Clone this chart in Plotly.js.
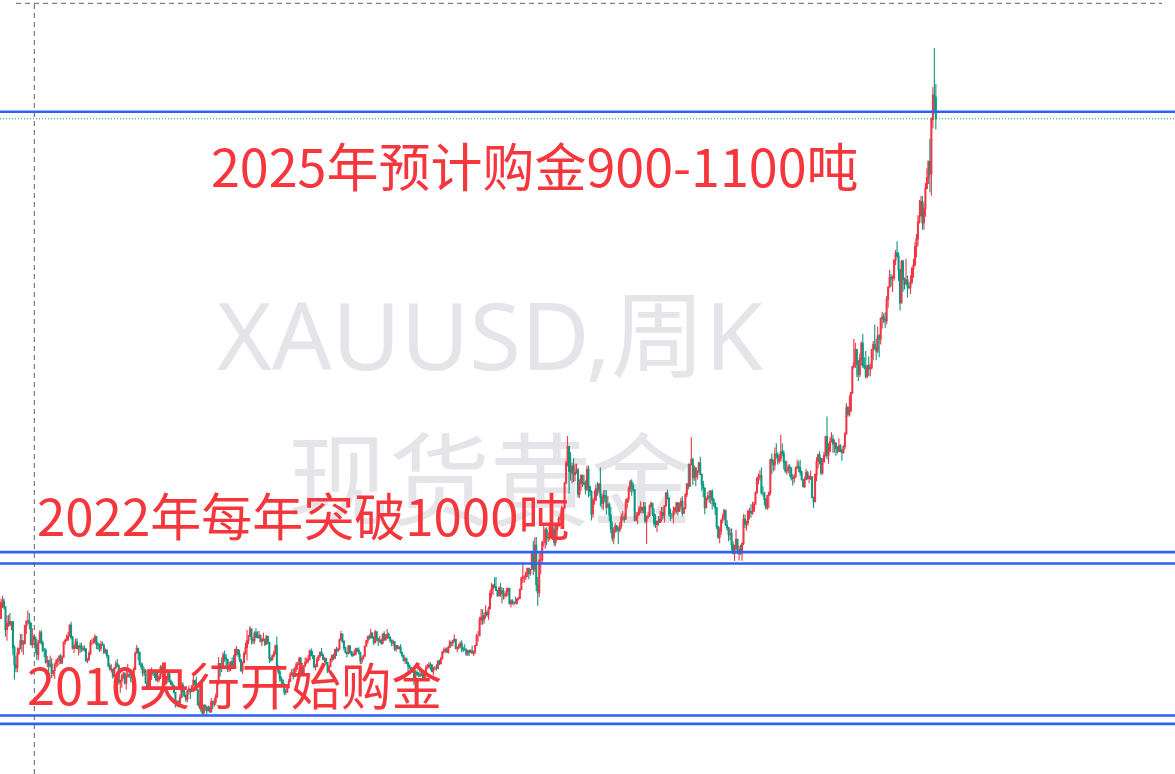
<!DOCTYPE html>
<html>
<head>
<meta charset="utf-8">
<script src="https://cdn.plot.ly/plotly-3.0.1.min.js"></script>
<style>
html,body{margin:0;padding:0;background:#ffffff;overflow:hidden}
#chart{width:1175px;height:774px}
</style>
</head>
<body>
<div id="chart"></div>
<script>
// ---- chart data (weekly XAUUSD candles) ----
const firstWeek = '2013-04-22';
const watermarkTitle = 'XAUUSD,周K';
const watermarkSubtitle = '现货黄金';
const notes = ['2025年预计购金900-1100吨', '2022年每年突破1000吨', '2010央行开始购金'];
const levelLines = [3266, 1648, 1606, 1048, 1017];

const open = [
// 2013
1405,1462,1468,1447,1364,1386,1392,1383,1392,1297,1234,1223,1277,1294,1322,1310,1312,1377,1395,1396,1387,1308,1325,1336,1310,1272,1315,1352,1315,1287,1287,1244,1250,1230,1236,1203,1213,
// 2014
1238,1247,1254,1264,1240,1262,1318,1323,1326,1339,1379,1335,1294,1303,1318,1293,1303,1300,1291,1293,1292,1250,1252,1275,1316,1316,1320,1337,1310,1307,1294,1309,1306,1280,1287,1268,1230,1216,1218,1192,1222,1238,1231,1170,1177,1191,1200,1167,1191,1196,1195,1195,
// 2015
1189,1217,1277,1294,1279,1234,1228,1205,1213,1167,1153,1184,1199,1210,1204,1204,1178,1179,1189,1225,1206,1190,1168,1181,1201,1173,1164,1157,1132,1098,1094,1094,1113,1160,1134,1121,1108,1137,1145,1137,1156,1177,1163,1142,1088,1081,1076,1057,1086,1077,1065,1076,
// 2016
1061,1098,1089,1097,1117,1174,1239,1227,1221,1270,1259,1254,1218,1223,1244,1235,1231,1290,1290,1273,1253,1213,1243,1275,1298,1322,1340,1366,1327,1323,1351,1336,1335,1341,1321,1327,1328,1310,1338,1316,1257,1252,1267,1276,1304,1225,1208,1183,1177,1160,1134,1133,
// 2017
1151,1173,1197,1204,1191,1220,1234,1235,1257,1226,1202,1229,1243,1249,1254,1285,1268,1268,1227,1228,1254,1267,1280,1271,1254,1256,1242,1212,1228,1254,1269,1258,1290,1286,1291,1325,1346,1320,1297,1280,1275,1304,1280,1272,1269,1275,1293,1287,1280,1248,1256,1266,
// 2018
1302,1322,1338,1333,1350,1333,1315,1355,1330,1323,1324,1313,1347,1325,1332,1346,1336,1323,1314,1319,1292,1304,1294,1298,1279,1269,1251,1255,1241,1231,1222,1214,1212,1184,1206,1199,1196,1194,1200,1187,1203,1222,1227,1233,1232,1209,1222,1222,1221,1248,1238,1256,1281,
// 2019
1288,1289,1281,1298,1317,1314,1322,1328,1294,1298,1302,1312,1292,1291,1290,1275,1286,1280,1285,1277,1284,1305,1341,1341,1399,1409,1400,1415,1426,1419,1440,1496,1513,1526,1520,1507,1488,1516,1497,1505,1489,1490,1504,1514,1459,1468,1462,1464,1460,1476,1478,1511,
// 2020
1552,1557,1557,1571,1589,1570,1584,1643,1586,1673,1529,1499,1618,1620,1683,1683,1729,1700,1702,1743,1735,1729,1684,1730,1743,1771,1774,1798,1810,1902,1975,2035,1944,1940,1964,1933,1940,1950,1861,1900,1930,1899,1902,1879,1951,1889,1871,1788,1839,1839,1881,1876,
// 2021
1898,1850,1828,1856,1848,1814,1824,1784,1734,1700,1727,1745,1732,1729,1744,1777,1777,1769,1832,1844,1881,1905,1892,1877,1764,1781,1787,1808,1812,1802,1814,1763,1779,1781,1818,1827,1787,1754,1750,1761,1757,1768,1793,1783,1818,1865,1846,1788,1783,1783,1798,1811,
// 2022
1829,1797,1817,1835,1791,1808,1859,1898,1889,1970,1988,1921,1958,1925,1945,1975,1933,1897,1883,1811,1846,1853,1851,1871,1840,1827,1811,1742,1703,1727,1766,1775,1802,1747,1737,1712,1716,1675,1644,1660,1695,1644,1657,1645,1681,1769,1751,1755,1797,1797,1792,1798,
// 2023
1824,1865,1920,1926,1928,1865,1865,1842,1811,1856,1868,1989,1978,1969,2007,2004,1983,1990,2017,2011,1978,1946,1948,1961,1958,1921,1919,1925,1955,1962,1959,1942,1914,1889,1914,1940,1919,1924,1925,1849,1833,1932,1981,2006,1993,1940,1981,2002,2072,2004,2019,2053,
// 2024
2063,2045,2049,2029,2018,2039,2024,2013,2035,2083,2179,2155,2166,2233,2330,2344,2392,2338,2301,2360,2415,2334,2327,2293,2333,2321,2326,2392,2411,2400,2387,2443,2431,2507,2512,2503,2497,2577,2621,2658,2653,2656,2721,2747,2736,2684,2563,2716,2650,2633,2648,2622,2621,
// 2025
2640,2690,2703,2771,2799,2861,2883,2936,2858,2910,2984,3023,3084,3037,3237,3327,3319
];

const high = [
// 2013
1476,1488,1479,1449,1415,1417,1424,1395,1393,1306,1267,1298,1298,1348,1347,1324,1381,1397,1434,1424,1387,1368,1344,1337,1329,1325,1361,1361,1322,1296,1295,1266,1253,1268,1258,1214,1240,
// 2014
1255,1259,1270,1275,1269,1320,1332,1345,1355,1383,1392,1340,1310,1331,1331,1306,1315,1315,1305,1305,1295,1258,1285,1325,1330,1333,1346,1340,1318,1312,1322,1320,1311,1294,1291,1270,1240,1236,1220,1226,1249,1255,1235,1178,1200,1208,1207,1221,1238,1206,1204,1208,
// 2015
1224,1282,1307,1298,1283,1244,1240,1224,1219,1175,1188,1219,1224,1215,1210,1205,1215,1198,1232,1232,1210,1199,1193,1205,1204,1180,1171,1162,1132,1105,1103,1126,1169,1170,1146,1124,1143,1157,1147,1160,1191,1178,1191,1141,1098,1091,1081,1088,1088,1083,1085,1083,
// 2016
1112,1103,1112,1129,1178,1263,1240,1261,1280,1287,1274,1254,1244,1248,1262,1271,1294,1303,1290,1289,1254,1246,1284,1316,1362,1344,1377,1368,1337,1357,1368,1357,1358,1346,1333,1352,1330,1344,1341,1318,1264,1272,1286,1308,1338,1234,1216,1192,1181,1166,1144,1162,
// 2017
1183,1207,1219,1220,1226,1244,1245,1264,1263,1228,1233,1261,1260,1270,1289,1295,1285,1270,1236,1264,1270,1283,1296,1275,1264,1260,1243,1234,1258,1271,1275,1293,1300,1297,1331,1358,1350,1326,1300,1283,1306,1306,1286,1284,1290,1297,1298,1298,1282,1264,1271,1305,
// 2018
1325,1341,1345,1366,1355,1339,1362,1356,1333,1340,1330,1350,1357,1347,1366,1353,1336,1327,1327,1319,1308,1307,1303,1310,1282,1270,1264,1260,1245,1235,1226,1220,1213,1214,1214,1207,1212,1211,1207,1208,1233,1237,1243,1243,1237,1226,1230,1236,1250,1253,1264,1284,1298,
// 2019
1298,1298,1304,1326,1319,1326,1346,1330,1301,1311,1320,1324,1300,1310,1295,1288,1290,1290,1304,1287,1306,1348,1358,1411,1439,1438,1426,1453,1434,1448,1509,1535,1531,1555,1557,1510,1523,1535,1519,1516,1499,1516,1518,1517,1475,1475,1466,1485,1478,1484,1514,1557,
// 2020
1611,1563,1576,1590,1591,1585,1649,1690,1703,1704,1557,1645,1645,1690,1747,1738,1739,1722,1747,1765,1739,1744,1744,1746,1779,1789,1818,1815,1905,1984,2075,2039,2015,1976,1993,1973,1973,1957,1916,1933,1933,1932,1911,1965,1966,1892,1875,1848,1875,1897,1906,1901,
// 2021
1959,1863,1875,1876,1875,1855,1830,1815,1760,1740,1755,1745,1741,1759,1790,1798,1790,1843,1846,1890,1913,1916,1903,1878,1796,1795,1818,1834,1815,1832,1832,1783,1796,1823,1834,1829,1809,1787,1764,1781,1800,1814,1814,1818,1869,1877,1849,1808,1793,1816,1813,1831,
// 2022
1831,1830,1848,1853,1814,1865,1902,1974,1974,2070,1995,1966,1960,1949,1980,1998,1937,1910,1884,1849,1870,1875,1876,1879,1847,1830,1814,1745,1739,1767,1788,1807,1802,1765,1740,1735,1735,1688,1675,1729,1697,1671,1675,1682,1787,1786,1763,1804,1810,1824,1833,1833,
// 2023
1871,1922,1937,1949,1959,1890,1870,1846,1858,1870,1989,2010,1987,2032,2048,2015,2009,2079,2048,2022,1985,1983,1970,1971,1959,1934,1935,1963,1987,1982,1987,1948,1918,1925,1953,1946,1932,1947,1926,1851,1938,1997,2009,2019,1993,1993,2017,2075,2146,2048,2071,2088,
// 2024
2079,2062,2052,2037,2065,2044,2024,2041,2088,2195,2185,2223,2236,2331,2431,2417,2392,2354,2378,2422,2450,2364,2387,2336,2368,2340,2392,2424,2484,2432,2477,2448,2510,2531,2525,2529,2589,2625,2685,2670,2665,2722,2758,2790,2750,2689,2721,2721,2657,2726,2664,2639,2665,
// 2025
2697,2726,2786,2817,2886,2942,2955,2956,2930,3004,3057,3086,3167,3245,3357,3500,3368
];

const low = [
// 2013
1402,1443,1437,1338,1322,1374,1375,1361,1269,1180,1207,1207,1270,1290,1280,1271,1310,1347,1382,1365,1306,1295,1308,1277,1251,1251,1313,1308,1281,1262,1239,1225,1210,1224,1185,1192,1182,
// 2014
1223,1227,1234,1238,1239,1260,1308,1322,1322,1337,1327,1291,1277,1293,1291,1268,1277,1281,1284,1283,1243,1240,1250,1270,1306,1311,1311,1292,1288,1281,1284,1304,1273,1275,1258,1226,1214,1206,1183,1187,1220,1226,1161,1131,1150,1181,1162,1142,1187,1186,1170,1167,
// 2015
1188,1216,1276,1250,1232,1216,1191,1194,1164,1147,1142,1180,1178,1192,1186,1174,1170,1170,1182,1200,1181,1162,1162,1170,1169,1159,1146,1130,1077,1080,1077,1090,1111,1117,1116,1098,1097,1125,1108,1132,1154,1158,1139,1085,1075,1062,1052,1046,1064,1046,1063,1058,
// 2016
1061,1071,1079,1086,1111,1160,1191,1208,1221,1245,1227,1208,1207,1211,1224,1227,1227,1268,1262,1244,1208,1200,1240,1271,1250,1310,1336,1309,1310,1311,1332,1331,1330,1316,1303,1321,1302,1310,1310,1241,1245,1250,1261,1272,1220,1200,1172,1160,1153,1122,1124,1132,
// 2017
1146,1175,1195,1180,1188,1208,1216,1233,1223,1195,1196,1227,1238,1240,1250,1265,1255,1221,1214,1226,1247,1259,1266,1250,1242,1235,1204,1208,1228,1243,1251,1256,1266,1281,1288,1323,1315,1287,1276,1261,1275,1276,1265,1263,1268,1270,1281,1271,1236,1237,1254,1266,
// 2018
1301,1311,1326,1333,1331,1307,1314,1321,1303,1315,1309,1309,1322,1323,1332,1331,1316,1302,1304,1285,1282,1291,1290,1276,1261,1246,1238,1237,1211,1220,1204,1206,1160,1180,1195,1188,1189,1193,1180,1181,1183,1221,1221,1214,1207,1196,1215,1212,1221,1232,1236,1255,1276,
// 2019
1279,1277,1275,1296,1302,1301,1317,1291,1281,1290,1297,1280,1281,1286,1266,1267,1266,1278,1275,1266,1273,1305,1321,1341,1381,1381,1385,1404,1411,1400,1437,1480,1491,1515,1505,1484,1490,1484,1459,1474,1478,1484,1486,1456,1445,1456,1452,1458,1455,1470,1477,1508,
// 2020
1535,1536,1546,1557,1548,1561,1582,1563,1576,1504,1451,1482,1568,1606,1669,1660,1673,1685,1691,1718,1693,1670,1671,1704,1742,1758,1764,1795,1807,1897,1963,1863,1911,1902,1906,1908,1936,1848,1848,1873,1887,1893,1860,1872,1850,1853,1764,1774,1822,1852,1855,1863,
// 2021
1816,1807,1802,1831,1785,1808,1761,1717,1687,1677,1719,1721,1677,1721,1734,1763,1756,1769,1808,1830,1869,1855,1867,1761,1761,1750,1783,1792,1790,1790,1753,1678,1770,1778,1808,1781,1742,1737,1721,1746,1756,1759,1770,1758,1816,1842,1778,1762,1770,1753,1785,1789,
// 2022
1782,1799,1805,1780,1788,1807,1850,1878,1889,1966,1895,1910,1890,1915,1940,1930,1872,1850,1787,1808,1838,1829,1825,1805,1816,1784,1732,1697,1681,1711,1754,1765,1745,1727,1688,1692,1654,1639,1615,1659,1640,1617,1637,1616,1673,1737,1727,1745,1768,1774,1785,1797,
// 2023
1824,1863,1896,1911,1861,1852,1819,1805,1804,1809,1858,1934,1944,1949,1993,1969,1974,1980,2000,1952,1940,1932,1938,1925,1911,1893,1902,1921,1953,1942,1929,1911,1885,1884,1912,1915,1901,1913,1846,1810,1833,1908,1954,1970,1931,1932,1975,1998,1990,1973,2017,2052,
// 2024
2013,2013,2002,2010,2016,2015,1984,2010,2025,2079,2146,2146,2166,2228,2323,2324,2291,2277,2291,2334,2325,2320,2286,2287,2295,2293,2319,2353,2392,2353,2380,2364,2411,2470,2490,2471,2485,2546,2620,2624,2604,2645,2703,2730,2643,2536,2563,2605,2613,2631,2583,2614,2596,
// 2025
2634,2656,2698,2730,2772,2855,2887,2832,2832,2880,2982,3000,2970,2957,3205,3260,3202
];

const close = [
// 2013
1462,1468,1447,1364,1386,1392,1383,1392,1297,1234,1223,1277,1294,1322,1310,1312,1377,1395,1396,1387,1308,1325,1336,1310,1272,1315,1352,1315,1287,1287,1244,1250,1230,1236,1203,1213,1238,
// 2014
1247,1254,1264,1240,1262,1318,1323,1326,1339,1379,1335,1294,1303,1318,1293,1303,1300,1291,1293,1292,1250,1252,1275,1316,1316,1320,1337,1310,1307,1294,1309,1306,1280,1287,1268,1230,1216,1218,1192,1222,1238,1231,1170,1177,1191,1200,1167,1191,1196,1195,1195,1189,
// 2015
1217,1277,1294,1279,1234,1228,1205,1213,1167,1153,1184,1199,1210,1204,1204,1178,1179,1189,1225,1206,1190,1168,1181,1201,1173,1164,1157,1132,1098,1094,1094,1113,1160,1134,1121,1108,1137,1145,1137,1156,1177,1163,1142,1088,1081,1076,1057,1086,1077,1065,1076,1061,
// 2016
1098,1089,1097,1117,1174,1239,1227,1221,1270,1259,1254,1218,1223,1244,1235,1231,1290,1290,1273,1253,1213,1243,1275,1298,1322,1340,1366,1327,1323,1351,1336,1335,1341,1321,1327,1328,1310,1338,1316,1257,1252,1267,1276,1304,1225,1208,1183,1177,1160,1134,1133,1151,
// 2017
1173,1197,1204,1191,1220,1234,1235,1257,1226,1202,1229,1243,1249,1254,1285,1268,1268,1227,1228,1254,1267,1280,1271,1254,1256,1242,1212,1228,1254,1269,1258,1290,1286,1291,1325,1346,1320,1297,1280,1275,1304,1280,1272,1269,1275,1293,1287,1280,1248,1256,1266,1302,
// 2018
1322,1338,1333,1350,1333,1315,1355,1330,1323,1324,1313,1347,1325,1332,1346,1336,1323,1314,1319,1292,1304,1294,1298,1279,1269,1251,1255,1241,1231,1222,1214,1212,1184,1206,1199,1196,1194,1200,1187,1203,1222,1227,1233,1232,1209,1222,1222,1221,1248,1238,1256,1281,1288,
// 2019
1289,1281,1298,1317,1314,1322,1328,1294,1298,1302,1312,1292,1291,1290,1275,1286,1280,1285,1277,1284,1305,1341,1341,1399,1409,1400,1415,1426,1419,1440,1496,1513,1526,1520,1507,1488,1516,1497,1505,1489,1490,1504,1514,1459,1468,1462,1464,1460,1476,1478,1511,1552,
// 2020
1557,1557,1571,1589,1570,1584,1643,1586,1673,1529,1499,1618,1620,1683,1683,1729,1700,1702,1743,1735,1729,1684,1730,1743,1771,1774,1798,1810,1902,1975,2035,1944,1940,1964,1933,1940,1950,1861,1900,1930,1899,1902,1879,1951,1889,1871,1788,1839,1839,1881,1876,1898,
// 2021
1850,1828,1856,1848,1814,1824,1784,1734,1700,1727,1745,1732,1729,1744,1777,1777,1769,1832,1844,1881,1905,1892,1877,1764,1781,1787,1808,1812,1802,1814,1763,1779,1781,1818,1827,1787,1754,1750,1761,1757,1768,1793,1783,1818,1865,1846,1788,1783,1783,1798,1811,1829,
// 2022
1797,1817,1835,1791,1808,1859,1898,1889,1970,1988,1921,1958,1925,1945,1975,1933,1897,1883,1811,1846,1853,1851,1871,1840,1827,1811,1742,1703,1727,1766,1775,1802,1747,1737,1712,1716,1675,1644,1660,1695,1644,1657,1645,1681,1769,1751,1755,1797,1797,1792,1798,1824,
// 2023
1865,1920,1926,1928,1865,1865,1842,1811,1856,1868,1989,1978,1969,2007,2004,1983,1990,2017,2011,1978,1946,1948,1961,1958,1921,1919,1925,1955,1962,1959,1942,1914,1889,1914,1940,1919,1924,1925,1849,1833,1932,1981,2006,1993,1940,1981,2002,2072,2004,2019,2053,2063,
// 2024
2045,2049,2029,2018,2039,2024,2013,2035,2083,2179,2155,2166,2233,2330,2344,2392,2338,2301,2360,2415,2334,2327,2293,2333,2321,2326,2392,2411,2400,2387,2443,2431,2507,2512,2503,2497,2577,2621,2658,2653,2656,2721,2747,2736,2684,2563,2716,2650,2633,2648,2622,2621,2640,
// 2025
2690,2703,2771,2799,2861,2883,2936,2858,2910,2984,3023,3084,3037,3237,3327,3319,3240
];

// ---- week dates (one candle per week) ----
const DAY = 864e5, WEEK = 7 * DAY;
const t0 = Date.parse(firstWeek + 'T00:00:00Z');
const fmt = ms => new Date(ms).toISOString().slice(0, 19).replace('T', ' ');
const weeks = close.map((_, i) => fmt(t0 + i * WEEK));

const W = 1175, H = 774;
const px = x => x / W;          // pixel -> paper (x)
const py = y => 1 - y / H;      // pixel -> paper (y)

const RED = '#F23645', GREEN = '#089981', BLUE = '#2E62F5', NOTE = '#F5363C';

const trace = {
  type: 'candlestick',
  x: weeks, open: open, high: high, low: low, close: close,
  increasing: {line: {color: RED, width: 1.1}, fillcolor: RED},
  decreasing: {line: {color: GREEN, width: 1.1}, fillcolor: GREEN},
  whiskerwidth: 0,
  hoverinfo: 'skip',
  showlegend: false
};

const shapes = [];
// watermark (behind candles)
shapes.push({type: 'rect', xref: 'paper', yref: 'paper', layer: 'below',
  x0: px(200), x1: px(780), y0: py(390), y1: py(290),
  line: {width: 0}, fillcolor: 'rgba(0,0,0,0)',
  label: {text: watermarkTitle, textposition: 'middle center',
          font: {family: 'Noto Sans, Noto Sans CJK SC, sans-serif', size: 94, color: '#E5E5E9'}}});
shapes.push({type: 'rect', xref: 'paper', yref: 'paper', layer: 'below',
  x0: px(275), x1: px(705), y0: py(540), y1: py(440),
  line: {width: 0}, fillcolor: 'rgba(0,0,0,0)',
  label: {text: watermarkSubtitle, textposition: 'middle center',
          font: {family: 'Noto Sans CJK SC, sans-serif', size: 101, color: '#E5E5E9'}}});
// level lines
levelLines.forEach(v => shapes.push({type: 'line', xref: 'paper', yref: 'y',
  x0: 0, x1: 1, y0: v, y1: v, line: {color: BLUE, width: 2.6}}));
// last price dotted line
shapes.push({type: 'line', xref: 'paper', yref: 'y', x0: 0, x1: 1,
  y0: close[close.length - 1], y1: close[close.length - 1],
  line: {color: GREEN, width: 1, dash: '1px,2px'}});
// dashed guide lines
shapes.push({type: 'line', xref: 'paper', yref: 'paper', x0: px(16), x1: px(1162), y0: py(3.3), y1: py(3.3),
  line: {color: '#5D606B', width: 1, dash: '5px,4px'}});
shapes.push({type: 'line', xref: 'paper', yref: 'paper', x0: px(34.3), x1: px(34.3), y0: 0, y1: py(3.3),
  line: {color: '#5D606B', width: 1, dash: '5px,4px'}});

const noteFamily = 'Noto Sans CJK SC, sans-serif';
const annotations = [
  {text: notes[0], x: px(209), y: py(164), size: 52},
  {text: notes[1], x: px(35), y: py(514), size: 51},
  {text: notes[2], x: px(25), y: py(683), size: 50.5}
].map(a => ({xref: 'paper', yref: 'paper', xanchor: 'left', yanchor: 'middle',
  showarrow: false, text: a.text, x: a.x, y: a.y,
  font: {family: noteFamily, size: a.size, color: NOTE}}));

const layout = {
  width: W, height: H,
  margin: {l: 0, r: 0, t: 0, b: 0, pad: 0},
  paper_bgcolor: '#ffffff', plot_bgcolor: '#ffffff',
  showlegend: false, hovermode: false,
  boxgap: 0.1,
  xaxis: {type: 'date', visible: false, showgrid: false, zeroline: false,
          rangeslider: {visible: false},
          range: [fmt(t0 - 0.67 * WEEK), fmt(t0 + 787.4 * WEEK)]},
  yaxis: {visible: false, showgrid: false, zeroline: false, range: [832.9, 3676.4]},
  shapes: shapes,
  annotations: annotations
};

Plotly.newPlot('chart', [trace], layout, {displayModeBar: false, staticPlot: true});
</script>
</body>
</html>
